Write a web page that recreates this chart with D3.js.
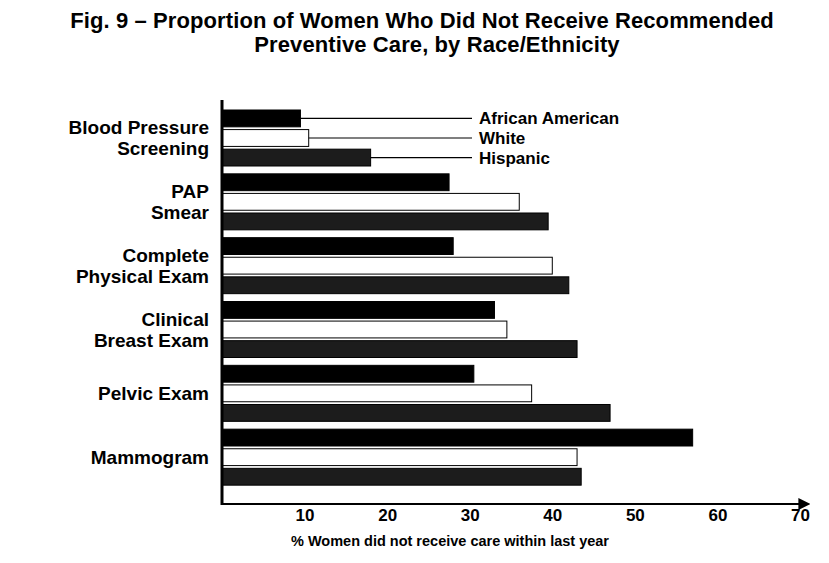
<!DOCTYPE html>
<html>
<head>
<meta charset="utf-8">
<style>
  body { margin: 0; background: #fff; }
  svg { font-family: "Liberation Sans", Arial, sans-serif; font-weight: bold; }
</style>
</head>
<body>
<svg></svg>
<script src="https://d3js.org/d3.v7.min.js"></script>
<script>

var categories = ["Blood Pressure Screening", "PAP Smear", "Complete Physical Exam",
                  "Clinical Breast Exam", "Pelvic Exam", "Mammogram"];
var labelLines = [["Blood Pressure", "Screening"], ["PAP", "Smear"], ["Complete", "Physical Exam"],
                  ["Clinical", "Breast Exam"], ["Pelvic Exam"], ["Mammogram"]];
var series = ["African American", "White", "Hispanic"];

// % not receiving care
var africanAmerican = [9.5, 27.5, 28, 33, 30.5, 57];
var white           = [10.5, 36, 40, 34.5, 37.5, 43];
var hispanic        = [18, 39.5, 42, 43, 47, 43.5];

var xTicks = [10, 20, 30, 40, 50, 60, 70];

var width = 829, height = 563;

var data = categories.map(function(c, i) {
  return {cat: c, values: [africanAmerican[i], white[i], hispanic[i]]};
});

var fills = {"African American": "#000", "White": "#fff", "Hispanic": "#1c1c1c"};

var svg = d3.select("svg")
    .attr("width", width)
    .attr("height", height);

var x = d3.scaleLinear().domain([0, 70]).range([222, 800]);

var y = d3.scaleBand().domain(categories).range([106, 489]).padding(0);
var ySub = d3.scaleBand().domain(series).range([4, 60]).paddingInner(0.14);

// title
svg.append("text")
    .attr("x", 422).attr("y", 28)
    .attr("text-anchor", "middle")
    .style("font-size", "22px")
    .style("letter-spacing", "0.1px")
    .text("Fig. 9 \u2013 Proportion of Women Who Did Not Receive Recommended");
svg.append("text")
    .attr("x", 437).attr("y", 52)
    .attr("text-anchor", "middle")
    .style("font-size", "22px")
    .style("letter-spacing", "0.1px")
    .text("Preventive Care, by Race/Ethnicity");

// bars
var groups = svg.selectAll(".grp")
    .data(data)
  .enter().append("g")
    .attr("class", "grp")
    .attr("transform", function(d) { return "translate(0," + y(d.cat) + ")"; });

groups.selectAll("rect")
    .data(function(d) { return d.values.map(function(v, i) { return {s: series[i], v: v}; }); })
  .enter().append("rect")
    .attr("x", x(0))
    .attr("y", function(d) { return ySub(d.s); })
    .attr("width", function(d) { return x(d.v) - x(0); })
    .attr("height", ySub.bandwidth())
    .attr("fill", function(d) { return fills[d.s]; })
    .attr("stroke", "#000")
    .attr("stroke-width", 1);

// category labels
groups.append("text")
    .attr("text-anchor", "end")
    .style("font-size", "19px")
    .attr("transform", "translate(209," + (y.bandwidth() / 2) + ")")
    .each(function(d, i) {
      var lines = labelLines[i];
      var t = d3.select(this);
      lines.forEach(function(l, j) {
        t.append("tspan")
          .attr("x", 0)
          .attr("y", (j - (lines.length - 1) / 2) * 21 + 7)
          .text(l);
      });
    });

// legend: leader lines from the first group's bars
var first = data[0];
series.forEach(function(s, i) {
  var cy = y(first.cat) + ySub(s) + ySub.bandwidth() / 2;
  svg.append("line")
      .attr("x1", x(first.values[i])).attr("x2", 472)
      .attr("y1", cy).attr("y2", cy)
      .attr("stroke", "#000").attr("stroke-width", 1.2);
  svg.append("text")
      .attr("x", 479).attr("y", cy + 6)
      .style("font-size", "17px")
      .text(s);
});

// axes
svg.append("defs").append("marker")
    .attr("id", "arrow")
    .attr("viewBox", "0 0 10 10")
    .attr("refX", 8).attr("refY", 5)
    .attr("markerWidth", 6).attr("markerHeight", 6)
    .attr("orient", "auto")
  .append("path")
    .attr("d", "M0,0L10,5L0,10Z");

svg.append("line")
    .attr("x1", x(0)).attr("x2", 808)
    .attr("y1", 504).attr("y2", 504)
    .attr("stroke", "#000").attr("stroke-width", 2)
    .attr("marker-end", "url(#arrow)");

svg.append("line")
    .attr("x1", x(0)).attr("x2", x(0))
    .attr("y1", 100).attr("y2", 505)
    .attr("stroke", "#000").attr("stroke-width", 3);

var xAxis = svg.append("g")
    .attr("transform", "translate(0,504)")
    .call(d3.axisBottom(x).tickValues(xTicks).tickSize(0).tickPadding(5));
xAxis.select(".domain").remove();
xAxis.selectAll("text")
    .style("font-size", "17px")
    .style("font-weight", "bold")
    .attr("fill", "#000");

svg.append("text")
    .attr("x", 450).attr("y", 546)
    .attr("text-anchor", "middle")
    .style("font-size", "14.5px")
    .text("% Women did not receive care within last year");

</script>
</body>
</html>
